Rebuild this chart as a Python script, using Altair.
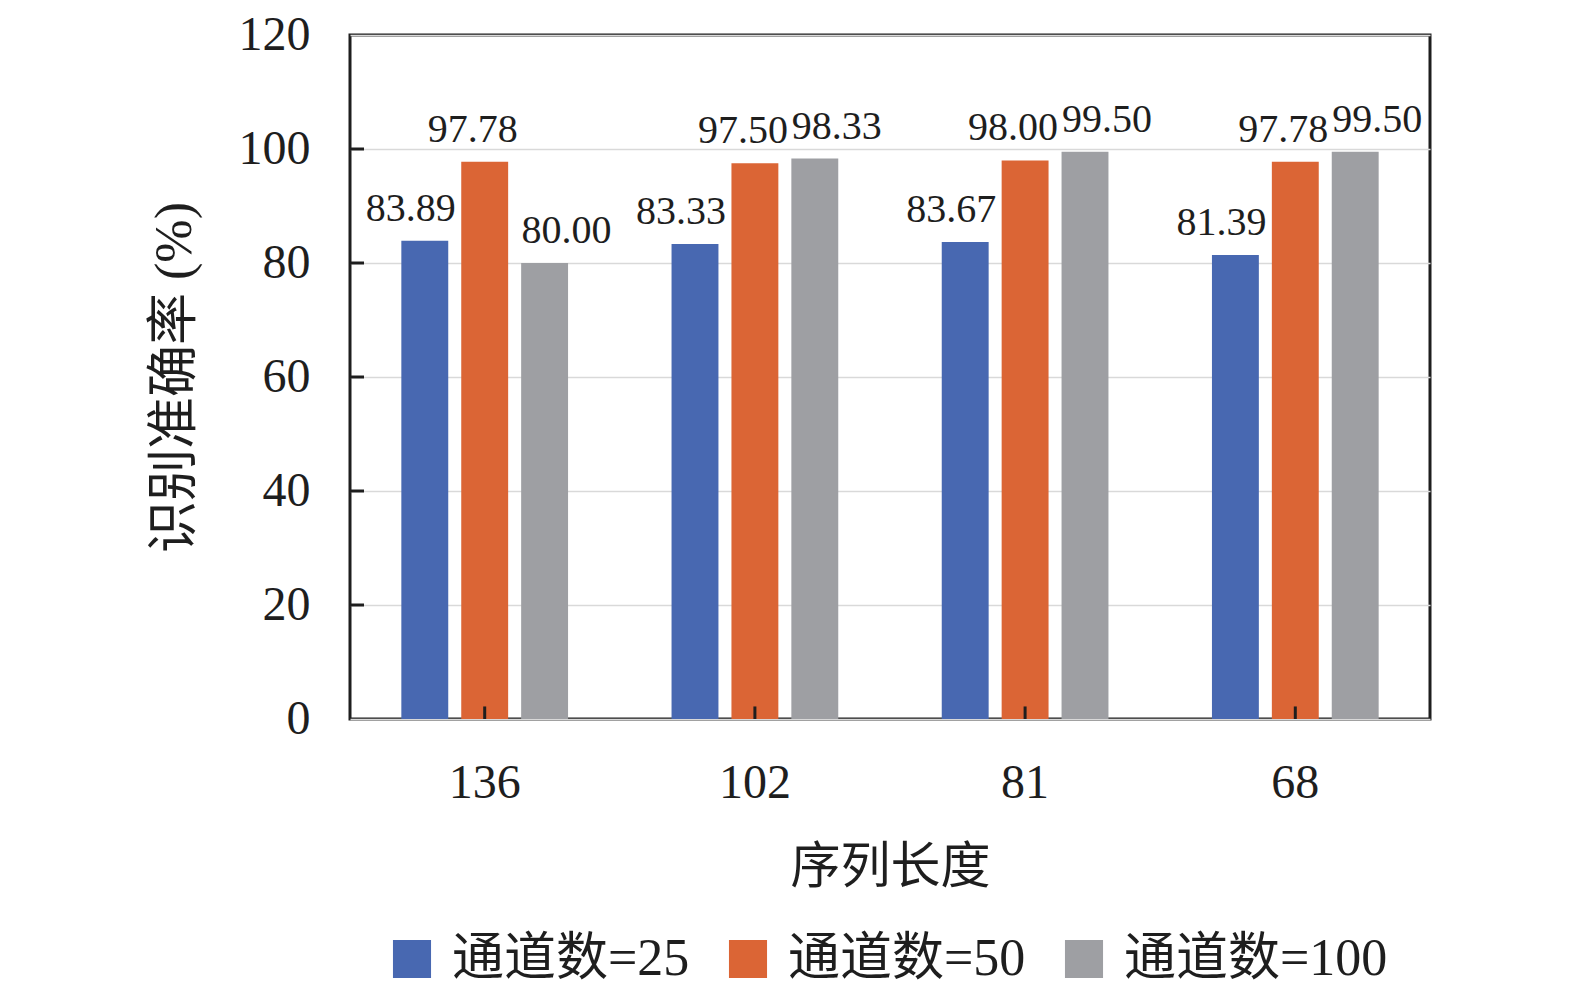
import altair as alt
import pandas as pd

# Data
lengths = ['136', '102', '81', '68']
series = ['通道数=25', '通道数=50', '通道数=100']
acc_25 = [83.89, 83.33, 83.67, 81.39]
acc_50 = [97.78, 97.50, 98.00, 97.78]
acc_100 = [80.00, 98.33, 99.50, 99.50]
colors = ['#4868b1', '#db6535', '#9e9fa3']
y_ticks = [0, 20, 40, 60, 80, 100, 120]
label_shift = [-14, -12, 22]

rows = []
for name, vals in zip(series, [acc_25, acc_50, acc_100]):
    for length, v in zip(lengths, vals):
        rows.append({'length': length, 'channel': name, 'acc': v})
df = pd.DataFrame(rows)

FONT = 'Liberation Serif, Noto Sans CJK SC'
INK = '#1e1e1e'

x_enc = alt.X(
    'length:N', sort=lengths,
    scale=alt.Scale(paddingInner=0.383, paddingOuter=0.19),
    axis=alt.Axis(title='序列长度', labelAngle=0, ticks=False, domain=False,
                  labelFontSize=48, labelPadding=40, titleFontSize=50,
                  titlePadding=35)
)
xoff_enc = alt.XOffset('channel:N', sort=series,
                       scale=alt.Scale(domain=series, paddingInner=0.217, paddingOuter=0))
y_enc = alt.Y(
    'acc:Q', scale=alt.Scale(domain=[0, 120], nice=False),
    axis=alt.Axis(title='识别准确率 (%)', values=y_ticks, ticks=False, domain=False,
                  labelFontSize=48, labelPadding=40, titleFontSize=52,
                  titlePadding=37, grid=True, gridColor='#d9d9d9', gridWidth=1.5)
)

bars = alt.Chart(df).mark_bar(stroke=None).encode(
    x=x_enc,
    xOffset=xoff_enc,
    y=y_enc,
    color=alt.Color(
        'channel:N', sort=series,
        scale=alt.Scale(domain=series, range=colors),
        legend=alt.Legend(orient='none', legendX=36, legendY=898,
                          direction='horizontal', title=None,
                          symbolType='square', symbolSize=1450, symbolStrokeWidth=0,
                          labelFontSize=52, labelOffset=14, columnPadding=32,
                          labelLimit=0)
    )
)

labels = []
for name, shift in zip(series, label_shift):
    labels.append(
        alt.Chart(df)
        .transform_filter(alt.datum.channel == name)
        .mark_text(dx=shift, dy=-12, baseline='bottom', fontSize=40, font=FONT, color=INK)
        .encode(x=x_enc, xOffset=xoff_enc, y=y_enc, text=alt.Text('acc:Q', format='.2f'))
    )

# inward tick marks on both axes
x_ticks = alt.Chart(pd.DataFrame({'length': lengths})).mark_rule(
    color=INK, strokeWidth=3
).encode(x=alt.X('length:N', sort=lengths), y=alt.datum(0), y2=alt.datum(2.2))

y_tick_marks = alt.Chart(pd.DataFrame({'acc': y_ticks[1:-1]})).mark_rule(
    color=INK, strokeWidth=3
).encode(y='acc:Q', x=alt.value(0), x2=alt.value(14))

chart = (
    alt.layer(bars, *labels, x_ticks, y_tick_marks)
    .properties(width=1080, height=684,
                padding={'left': 140, 'top': 3, 'right': 10, 'bottom': 0})
    .configure_view(stroke=INK, strokeWidth=3)
    .configure_axis(labelFont=FONT, titleFont=FONT, labelColor=INK, titleColor=INK,
                    titleFontWeight='normal')
    .configure_legend(labelFont=FONT, labelColor=INK)
)

chart.save('out.html', embed_options={'renderer': 'svg', 'actions': False})
